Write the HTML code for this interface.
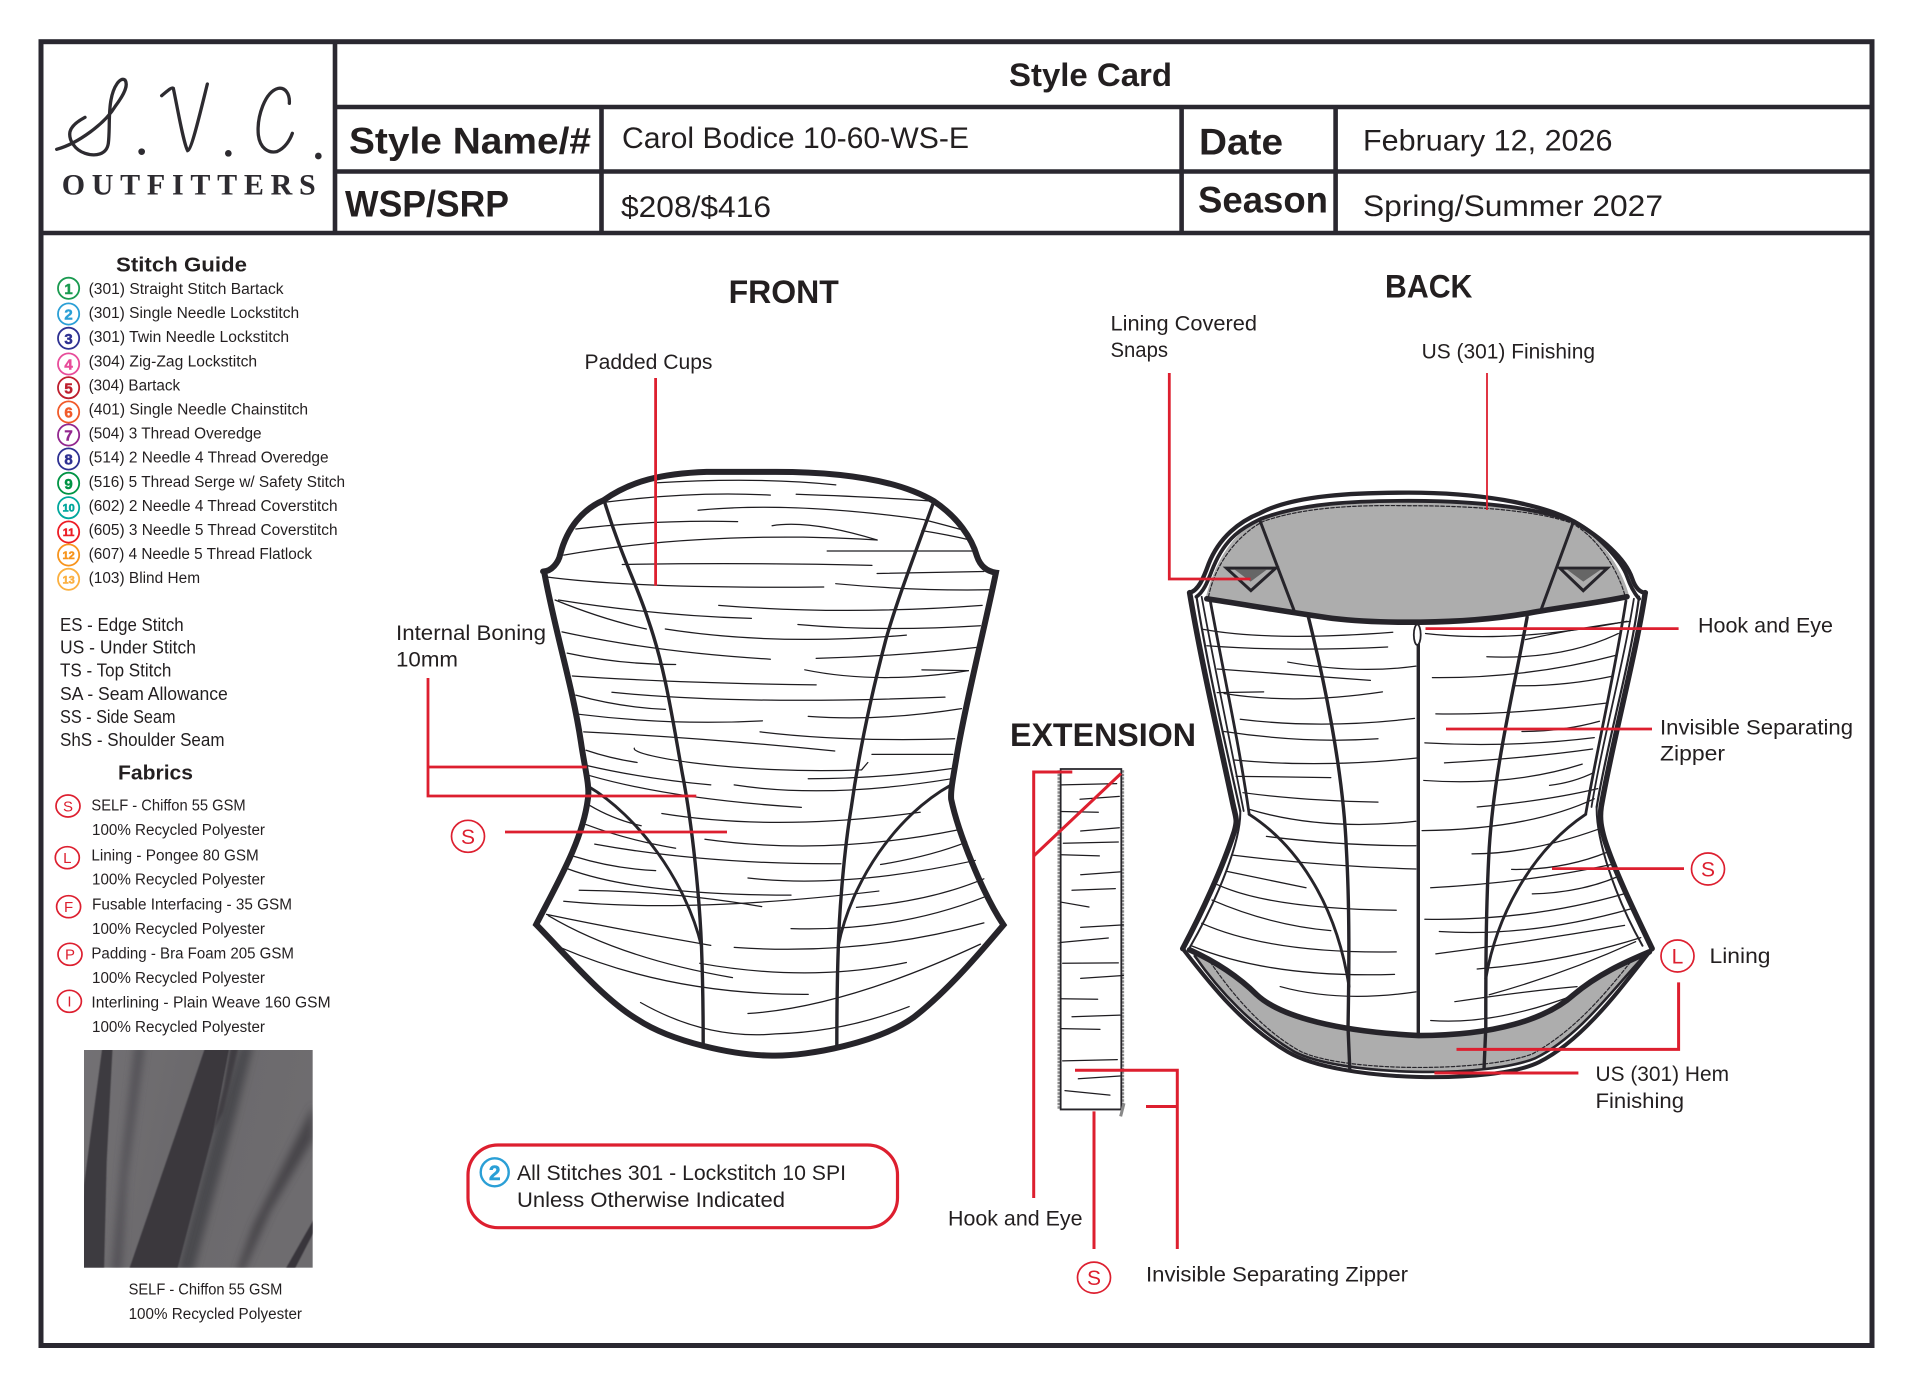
<!DOCTYPE html>
<html><head><meta charset="utf-8"><title>Style Card</title>
<style>
html,body{margin:0;padding:0;background:#fff}
svg{display:block}
text{font-family:"Liberation Sans",Arial,sans-serif;fill:#231f20}
.b{font-weight:bold}
.w path{fill:none;stroke:#1e1c20;stroke-width:1.25;vector-effect:non-scaling-stroke;stroke-linecap:round}
.o path{fill:none;stroke:#26242a;vector-effect:non-scaling-stroke;stroke-linecap:round;stroke-linejoin:miter}
.r{stroke:#dd1f2f;fill:none;stroke-width:2.8}
.rc{stroke:#dd1f2f;fill:#fff;stroke-width:1.7}
.rt{fill:#dd1f2f !important}
.n{fill:#fff;stroke-width:1.8}
.d{font-weight:bold;text-anchor:middle;stroke-width:.5}
</style></head><body>
<svg xmlns="http://www.w3.org/2000/svg" width="1920" height="1398" viewBox="0 0 1920 1398">
<rect width="1920" height="1398" fill="#fff"/>

<!-- frame -->
<g fill="none" stroke="#2a2830">
<rect x="41" y="41.700" width="1831" height="1303.800" stroke-width="5"/>
<path stroke-width="4.600" d="M335 42V233M335 107H1872M335 171.500H1872M41 233H1872M601.500 107V233M1181.600 107V233M1335.600 107V233"/>
</g>

<!-- logo -->
<g transform="translate(45,60) scale(.33333)" class="o">
<path style="stroke:#2d2b30" stroke-width="3.300" d="M35 268C100 250 180 190 210 140C240 100 250 75 240 60C225 50 205 80 198 120C190 160 195 210 190 250C185 285 150 290 120 280C90 270 70 240 75 215C80 195 105 180 120 172"/>
<path style="stroke:#2d2b30" stroke-width="3.300" d="M350 107C365 95 380 80 385 85C395 130 415 250 428 272C440 270 470 140 487 72"/>
<path style="stroke:#2d2b30" stroke-width="3.300" d="M733 130C735 100 720 82 700 85C660 95 635 170 640 225C645 265 670 280 695 275C720 265 735 240 742 220"/>
<g fill="#2d2b30"><circle cx="290" cy="275" r="10"/><circle cx="550" cy="280" r="10"/><circle cx="820" cy="288" r="10"/></g>
</g>
<text x="61.700" y="194.300" font-size="30" font-weight="bold" style="font-family:'Liberation Serif',serif;fill:#2d2b30" textLength="254" lengthAdjust="spacing">OUTFITTERS</text>

<!-- header -->
<text class="b" x="1009" y="86" font-size="32" textLength="163" lengthAdjust="spacingAndGlyphs">Style Card</text>
<text class="b" x="349" y="153.500" font-size="37" textLength="242" lengthAdjust="spacingAndGlyphs">Style Name/#</text>
<text class="b" x="345" y="216.500" font-size="37" textLength="164" lengthAdjust="spacingAndGlyphs">WSP/SRP</text>
<text class="b" x="1199" y="154.500" font-size="37" textLength="84" lengthAdjust="spacingAndGlyphs">Date</text>
<text class="b" x="1198" y="212.500" font-size="37" textLength="130" lengthAdjust="spacingAndGlyphs">Season</text>
<text x="622" y="148" font-size="30" textLength="347" lengthAdjust="spacingAndGlyphs">Carol Bodice 10-60-WS-E</text>
<text x="621" y="217" font-size="30" textLength="150" lengthAdjust="spacingAndGlyphs">$208/$416</text>
<text x="1363" y="150.700" font-size="30" textLength="249.500" lengthAdjust="spacingAndGlyphs">February 12, 2026</text>
<text x="1363" y="216" font-size="30" textLength="300" lengthAdjust="spacingAndGlyphs">Spring/Summer 2027</text>

<!-- stitch guide -->
<text class="b" x="116" y="271.700" font-size="20.500" textLength="131" lengthAdjust="spacingAndGlyphs">Stitch Guide</text>
<g font-size="15.500">
<text x="88.600" y="294" textLength="195" lengthAdjust="spacingAndGlyphs">(301) Straight Stitch Bartack</text>
<text x="88.600" y="318" textLength="210.500" lengthAdjust="spacingAndGlyphs">(301) Single Needle Lockstitch</text>
<text x="88.600" y="342.200" textLength="200.500" lengthAdjust="spacingAndGlyphs">(301) Twin Needle Lockstitch</text>
<text x="88.600" y="366.300" textLength="168.500" lengthAdjust="spacingAndGlyphs">(304) Zig-Zag Lockstitch</text>
<text x="88.600" y="390.400" textLength="91.500" lengthAdjust="spacingAndGlyphs">(304) Bartack</text>
<text x="88.600" y="414.500" textLength="219.500" lengthAdjust="spacingAndGlyphs">(401) Single Needle Chainstitch</text>
<text x="88.600" y="438.600" textLength="173" lengthAdjust="spacingAndGlyphs">(504) 3 Thread Overedge</text>
<text x="88.600" y="462.700" textLength="240" lengthAdjust="spacingAndGlyphs">(514) 2 Needle 4 Thread Overedge</text>
<text x="88.600" y="486.800" textLength="256.500" lengthAdjust="spacingAndGlyphs">(516) 5 Thread Serge w/ Safety Stitch</text>
<text x="88.600" y="510.900" textLength="249" lengthAdjust="spacingAndGlyphs">(602) 2 Needle 4 Thread Coverstitch</text>
<text x="88.600" y="535" textLength="249" lengthAdjust="spacingAndGlyphs">(605) 3 Needle 5 Thread Coverstitch</text>
<text x="88.600" y="559" textLength="223.500" lengthAdjust="spacingAndGlyphs">(607) 4 Needle 5 Thread Flatlock</text>
<text x="88.600" y="583" textLength="111.500" lengthAdjust="spacingAndGlyphs">(103) Blind Hem</text>
</g>
<g>
<circle class="n" cx="68.600" cy="288.300" r="10.600" stroke="#1a9a50"/><text class="d" x="68.600" y="294" font-size="15" style="fill:#1a9a50;stroke:#1a9a50">1</text>
<circle class="n" cx="68.600" cy="314" r="10.600" stroke="#2a9fd6"/><text class="d" x="68.600" y="319.700" font-size="15" style="fill:#2a9fd6;stroke:#2a9fd6">2</text>
<circle class="n" cx="68.600" cy="338.300" r="10.600" stroke="#2e3192"/><text class="d" x="68.600" y="344" font-size="15" style="fill:#2e3192;stroke:#2e3192">3</text>
<circle class="n" cx="68.600" cy="364" r="10.600" stroke="#e84c9a"/><text class="d" x="68.600" y="369.700" font-size="15" style="fill:#e84c9a;stroke:#e84c9a">4</text>
<circle class="n" cx="68.600" cy="387.700" r="10.600" stroke="#be1e2d"/><text class="d" x="68.600" y="393.400" font-size="15" style="fill:#be1e2d;stroke:#be1e2d">5</text>
<circle class="n" cx="68.600" cy="412" r="10.600" stroke="#f15a29"/><text class="d" x="68.600" y="417.700" font-size="15" style="fill:#f15a29;stroke:#f15a29">6</text>
<circle class="n" cx="68.600" cy="435" r="10.600" stroke="#92278f"/><text class="d" x="68.600" y="440.700" font-size="15" style="fill:#92278f;stroke:#92278f">7</text>
<circle class="n" cx="68.600" cy="459" r="10.600" stroke="#2e3192"/><text class="d" x="68.600" y="464.700" font-size="15" style="fill:#2e3192;stroke:#2e3192">8</text>
<circle class="n" cx="68.600" cy="483.300" r="10.600" stroke="#009444"/><text class="d" x="68.600" y="489" font-size="15" style="fill:#009444;stroke:#009444">9</text>
<circle class="n" cx="68.600" cy="507.700" r="10.600" stroke="#00a79d"/><text class="d" x="68.600" y="511.700" font-size="11" style="fill:#00a79d;stroke:#00a79d">10</text>
<circle class="n" cx="68.600" cy="532" r="10.600" stroke="#ed1c24"/><text class="d" x="68.600" y="536" font-size="11" style="fill:#ed1c24;stroke:#ed1c24">11</text>
<circle class="n" cx="68.600" cy="555" r="10.600" stroke="#f7941d"/><text class="d" x="68.600" y="559" font-size="11" style="fill:#f7941d;stroke:#f7941d">12</text>
<circle class="n" cx="68.600" cy="579.300" r="10.600" stroke="#fbb040"/><text class="d" x="68.600" y="583.300" font-size="11" style="fill:#fbb040;stroke:#fbb040">13</text>
</g>

<!-- abbreviations -->
<g font-size="18">
<text x="60" y="631" textLength="123.700" lengthAdjust="spacingAndGlyphs">ES - Edge Stitch</text>
<text x="60" y="653.700" textLength="136" lengthAdjust="spacingAndGlyphs">US - Under Stitch</text>
<text x="60" y="676.700" textLength="111.400" lengthAdjust="spacingAndGlyphs">TS - Top Stitch</text>
<text x="60" y="700" textLength="167.800" lengthAdjust="spacingAndGlyphs">SA - Seam Allowance</text>
<text x="60" y="723" textLength="115.500" lengthAdjust="spacingAndGlyphs">SS - Side Seam</text>
<text x="60" y="746" textLength="164.500" lengthAdjust="spacingAndGlyphs">ShS - Shoulder Seam</text>
</g>

<!-- fabrics -->
<text class="b" x="118" y="779.500" font-size="20.500" textLength="75" lengthAdjust="spacingAndGlyphs">Fabrics</text>
<g font-size="15.500">
<text x="91.400" y="810.700" textLength="154.300" lengthAdjust="spacingAndGlyphs">SELF - Chiffon 55 GSM</text>
<text x="92" y="835" textLength="173" lengthAdjust="spacingAndGlyphs">100% Recycled Polyester</text>
<text x="91.400" y="860.300" textLength="167.400" lengthAdjust="spacingAndGlyphs">Lining - Pongee 80 GSM</text>
<text x="92" y="884.700" textLength="173" lengthAdjust="spacingAndGlyphs">100% Recycled Polyester</text>
<text x="92" y="909.700" textLength="200" lengthAdjust="spacingAndGlyphs">Fusable Interfacing - 35 GSM</text>
<text x="92" y="934" textLength="173" lengthAdjust="spacingAndGlyphs">100% Recycled Polyester</text>
<text x="91.400" y="958.700" textLength="202.600" lengthAdjust="spacingAndGlyphs">Padding - Bra Foam 205 GSM</text>
<text x="92" y="983" textLength="173" lengthAdjust="spacingAndGlyphs">100% Recycled Polyester</text>
<text x="91.400" y="1007.700" textLength="239.200" lengthAdjust="spacingAndGlyphs">Interlining - Plain Weave  160 GSM</text>
<text x="92" y="1032" textLength="173" lengthAdjust="spacingAndGlyphs">100% Recycled Polyester</text>
</g>
<g text-anchor="middle" font-size="15">
<ellipse class="rc" cx="68" cy="806" rx="12" ry="11"/><text class="rt" x="68" y="811.500">S</text>
<ellipse class="rc" cx="67.300" cy="857.700" rx="12" ry="11"/><text class="rt" x="67.300" y="863">L</text>
<ellipse class="rc" cx="68.600" cy="906.700" rx="12" ry="11"/><text class="rt" x="68.600" y="912">F</text>
<ellipse class="rc" cx="70" cy="954.300" rx="12" ry="11"/><text class="rt" x="70" y="959.700">P</text>
<ellipse class="rc" cx="69.400" cy="1001.300" rx="12" ry="11"/><text class="rt" x="69.400" y="1006.700">I</text>
</g>

<!-- swatch -->
<defs>
<linearGradient id="sw" x1="0" y1="0" x2="1" y2="0.2">
<stop offset="0" stop-color="#737174"/><stop offset=".5" stop-color="#6b696c"/><stop offset="1" stop-color="#6e6c6f"/>
</linearGradient>
<filter id="bl" x="-20%" y="-20%" width="140%" height="140%"><feGaussianBlur stdDeviation="4"/></filter>
<filter id="bs" x="-30%" y="-30%" width="160%" height="160%"><feGaussianBlur stdDeviation="12"/></filter>
<filter id="bh" x="-10%" y="-10%" width="120%" height="120%"><feGaussianBlur stdDeviation="1.500"/></filter>
<clipPath id="swc"><rect x="12" y="15" width="686" height="653"/></clipPath>
</defs>
<g transform="translate(80,1045) scale(.33333)">
<rect x="12" y="15" width="686" height="653" fill="url(#sw)"/>
<g clip-path="url(#swc)">
<polygon points="165,0 195,0 140,400 125,680 95,680 125,350" fill="#535156" filter="url(#bs)"/>
<polygon points="340,680 470,200 520,0 480,0 400,260 290,680" fill="#4a484d" filter="url(#bs)"/>
<polygon points="700,180 700,280 570,500 490,680 470,680 520,540 610,360" fill="#47454a" filter="url(#bs)"/>
<polygon points="68,0 98,0 80,350 72,680 0,680 12,420" fill="#3c3a3f" filter="url(#bh)"/>
<polygon points="378,0 450,0 400,260 290,680 145,680 300,230" fill="#3a383e" filter="url(#bh)"/>
<polygon points="452,0 478,0 430,200 400,260 430,130" fill="#3f3d42" filter="url(#bl)"/>
<polygon points="702,522 702,560 640,680 612,680" fill="#38363b" filter="url(#bh)"/>
</g>
</g>
<g font-size="15.500">
<text x="128.600" y="1294.700" textLength="153.800" lengthAdjust="spacingAndGlyphs">SELF - Chiffon 55 GSM</text>
<text x="128.600" y="1319" textLength="173.400" lengthAdjust="spacingAndGlyphs">100% Recycled Polyester</text>
</g>

<!-- titles -->
<text class="b" x="728.600" y="303" font-size="32" textLength="110.200" lengthAdjust="spacingAndGlyphs">FRONT</text>
<text class="b" x="1385" y="297.700" font-size="32" textLength="87.400" lengthAdjust="spacingAndGlyphs">BACK</text>
<text class="b" x="1010" y="746" font-size="32" textLength="186" lengthAdjust="spacingAndGlyphs">EXTENSION</text>

<!-- FRONT bodice -->
<g transform="translate(500,440) scale(.3444,.4082)">
<path fill="#fff" d="M125 322C150 322 170 300 175 280C195 215 240 170 300 148C380 100 470 82 600 78L800 78C1000 78 1160 100 1260 150C1330 190 1370 240 1385 285C1395 310 1415 322 1440 325C1410 450 1350 650 1325 780C1315 830 1308 860 1310 880C1330 960 1400 1110 1462 1188C1400 1250 1300 1350 1200 1415C1100 1475 900 1510 790 1508C680 1508 500 1475 400 1420C300 1370 190 1260 105 1187C170 1080 240 980 255 880C262 850 245 800 235 740C210 600 160 470 128 322Z"/>
<g class="w">
<path d="M450 105Q750 90 975 110"/><path d="M310 152Q560 125 785 135"/><path d="M860 133Q1100 140 1260 150"/>
<path d="M575 172Q850 150 1230 195Q1300 210 1350 222"/><path d="M220 218Q450 195 690 200"/><path d="M790 210Q900 195 1095 245"/>
<path d="M185 282Q500 235 880 238Q1000 240 1095 245"/><path d="M1225 222Q1300 232 1365 245"/><path d="M950 272L1380 272"/>
<path d="M355 305Q700 300 1080 307"/><path d="M1095 327Q1250 325 1405 322"/><path d="M130 335Q400 365 940 360"/>
<path d="M975 352Q1200 370 1420 367"/><path d="M635 405Q1000 430 1400 405"/><path d="M160 392Q300 440 425 463"/>
<path d="M170 392Q450 430 730 437"/><path d="M480 463Q800 505 1180 478"/><path d="M865 452Q1100 470 1395 455"/>
<path d="M180 470Q450 520 785 537"/><path d="M918 535Q1150 530 1385 508"/><path d="M195 522Q350 550 510 550"/>
<path d="M885 563Q1100 600 1360 565"/><path d="M1225 563L1360 565"/><path d="M210 578Q500 595 918 600"/>
<path d="M325 618Q700 650 1292 630"/><path d="M220 625Q350 655 480 660"/><path d="M230 672Q500 700 762 688"/>
<path d="M895 677Q1100 690 1340 658"/><path d="M243 715Q600 730 972 762"/><path d="M755 715Q1000 740 1320 732"/>
<path d="M1080 770L1315 770"/><path d="M390 755C380 775 700 820 1050 808L1068 790"/><path d="M250 760Q320 780 398 790"/>
<path d="M255 798Q420 830 612 845"/><path d="M895 830Q1100 830 1310 805"/><path d="M260 822Q500 880 875 900"/>
<path d="M680 845Q950 880 1310 830"/><path d="M260 895Q330 930 410 945"/><path d="M470 915Q800 960 1220 912"/>
<path d="M250 942Q370 980 510 1000"/><path d="M595 978Q950 1020 1330 955"/><path d="M215 1020Q330 1050 452 1055"/>
<path d="M275 990Q600 1040 990 1038"/><path d="M1105 1040Q1250 1020 1355 985"/><path d="M195 1050Q400 1115 845 1115"/>
<path d="M720 1073Q1000 1100 1380 1030"/><path d="M230 1103Q500 1105 760 1143"/><path d="M185 1130Q550 1160 1100 1105"/>
<path d="M1035 1145Q1250 1130 1405 1075"/><path d="M135 1162Q350 1200 612 1238"/><path d="M845 1197Q1150 1205 1405 1120"/>
<path d="M680 1243Q1050 1265 1405 1183"/><path d="M180 1245Q500 1360 895 1358"/><path d="M140 1165Q350 1270 675 1317"/>
<path d="M580 1282Q900 1330 1180 1280"/><path d="M720 1405Q1000 1390 1395 1235"/><path d="M408 1378Q600 1470 800 1455Q1000 1450 1188 1388"/>
</g>
<g class="o">
<path stroke-width="3.400" d="M303 150C350 280 400 360 430 440C480 560 500 680 530 820C560 950 580 1130 585 1240C590 1350 590 1420 590 1485"/>
<path stroke-width="3.400" d="M1260 150C1200 290 1150 400 1120 490C1070 650 1040 780 1020 900C1000 1000 985 1150 982 1250C978 1350 978 1420 978 1490"/>
<path stroke-width="2.900" d="M255 848C400 920 540 1080 585 1240"/>
<path stroke-width="2.900" d="M1310 845C1150 920 1020 1080 982 1240"/>
<path stroke-width="6" d="M125 322C150 322 170 300 175 280C195 215 240 170 300 148C380 100 470 82 600 78L800 78C1000 78 1160 100 1260 150C1330 190 1370 240 1385 285C1395 310 1415 322 1440 325C1410 450 1350 650 1325 780C1315 830 1308 860 1310 880C1330 960 1400 1110 1462 1188C1400 1250 1300 1350 1200 1415C1100 1475 900 1510 790 1508C680 1508 500 1475 400 1420C300 1370 190 1260 105 1187C170 1080 240 980 255 880C262 850 245 800 235 740C210 600 160 470 128 322"/>
</g>
</g>

<!-- BACK bodice -->
<g transform="translate(1150,460) scale(.3444,.4082)">
<path fill="#adadad" d="M160 345C180 270 230 180 320 145C440 105 600 100 750 100C950 100 1110 115 1230 150C1300 180 1370 260 1392 335C1200 360 950 398 780 398C500 395 300 360 160 345Z"/>
<path fill="#adadad" d="M130 1210C200 1300 300 1390 420 1450C560 1510 980 1515 1120 1465C1250 1410 1350 1290 1435 1210C1300 1250 1240 1290 1230 1310C1150 1370 1000 1410 780 1410C550 1400 380 1365 310 1310C250 1260 180 1225 130 1210Z"/>
<g class="o">
<path stroke-width="1.200" stroke-dasharray="3.500 2" d="M170 335C190 250 260 180 330 150C450 115 600 110 750 112C950 112 1130 125 1225 155C1300 190 1360 270 1380 335"/>
<path stroke-width="1.200" stroke-dasharray="3.500 2" d="M175 1230C240 1310 330 1400 440 1450C570 1500 970 1500 1110 1455C1230 1400 1320 1310 1395 1230"/>
</g>
<g style="vector-effect:non-scaling-stroke">
<polygon points="222,265 365,265 293,320" fill="#adadad" stroke="#26242a" stroke-width="3" style="vector-effect:non-scaling-stroke"/>
<polygon points="245,268 340,268 292,298" fill="#666"/>
<polygon points="1190,265 1328,265 1258,320" fill="#adadad" stroke="#26242a" stroke-width="3" style="vector-effect:non-scaling-stroke"/>
<polygon points="1210,268 1310,268 1258,298" fill="#666"/>
</g>
<g class="w">
<path d="M155 415Q350 445 705 422"/><path d="M165 455Q400 470 690 458"/><path d="M400 495Q600 525 772 505"/>
<path d="M195 512Q400 525 640 540"/><path d="M195 570L330 568"/><path d="M215 572Q420 600 675 568"/>
<path d="M262 635Q500 660 768 633"/><path d="M215 665Q450 695 662 683"/><path d="M245 735Q500 755 775 730"/>
<path d="M250 775L525 778"/><path d="M270 815Q450 835 662 838"/><path d="M285 855Q500 910 772 885"/>
<path d="M338 922Q550 945 772 945"/><path d="M240 968Q500 995 772 1002"/><path d="M225 1008Q350 1030 453 1048"/>
<path d="M195 1040Q350 1100 715 1103"/><path d="M180 1078Q350 1140 525 1153"/><path d="M150 1135Q350 1210 715 1205"/>
<path d="M120 1190Q350 1270 710 1260"/><path d="M378 1290Q550 1330 772 1303"/>
<path d="M800 425Q1050 450 1385 395"/><path d="M1090 440Q1250 410 1395 395"/><path d="M978 482Q1200 490 1360 425"/>
<path d="M820 533Q1100 535 1355 478"/><path d="M1055 553Q1200 555 1340 530"/><path d="M830 622Q1050 625 1330 595"/>
<path d="M1080 665Q1200 665 1305 640"/><path d="M798 693Q1050 705 1290 680"/><path d="M855 742Q1100 730 1285 708"/>
<path d="M795 785Q1050 800 1255 745"/><path d="M1160 797Q1230 790 1290 765"/><path d="M950 850Q1150 835 1300 805"/>
<path d="M790 908Q1100 905 1290 830"/><path d="M935 965Q1100 965 1300 905"/><path d="M1050 1003Q1200 1005 1330 960"/>
<path d="M815 1048Q1100 1035 1345 990"/><path d="M1110 1063Q1250 1060 1360 1020"/><path d="M798 1125Q1100 1130 1380 1062"/>
<path d="M840 1155Q1100 1170 1395 1100"/><path d="M830 1210Q1100 1180 1378 1140"/><path d="M950 1247Q1200 1230 1425 1170"/>
<path d="M885 1327Q1100 1300 1240 1290"/><path d="M985 1310Q1200 1260 1410 1180"/><path d="M815 1373Q1000 1385 1235 1310"/>
</g>
<g class="o">
<path stroke-width="3" d="M320 150L418 368"/><path stroke-width="3" d="M1230 150L1135 368"/>
<path stroke-width="3.400" d="M460 385C500 520 560 750 570 950C580 1100 578 1250 575 1390L580 1490"/>
<path stroke-width="3.400" d="M1095 385C1060 550 1000 750 985 950C975 1100 975 1250 975 1390L970 1490"/>
<path stroke-width="2.900" d="M288 868C420 940 540 1080 578 1290"/>
<path stroke-width="2.900" d="M1265 868C1120 950 1010 1100 975 1270"/>
<path stroke-width="3.400" d="M779 450V1405"/>
<path stroke-width="2.200" d="M135 335C170 520 220 700 262 860"/>
<path stroke-width="1.800" d="M150 335C190 520 235 700 272 860"/>
<path stroke-width="2.800" d="M175 345C215 530 260 700 288 868"/>
<path stroke-width="2.200" d="M1420 335C1395 500 1330 680 1297 850"/>
<path stroke-width="1.800" d="M1405 340C1375 500 1310 700 1282 850"/>
<path stroke-width="2.800" d="M1382 345C1350 520 1300 700 1265 868"/>
<path stroke-width="2" d="M262 860C265 930 200 1070 115 1195"/>
<path stroke-width="2" d="M1297 850C1295 930 1350 1070 1430 1190"/>
<path stroke-width="3.800" d="M135 335C160 320 170 290 185 260C220 190 270 165 320 145C440 105 600 100 750 100C950 100 1110 115 1230 150C1300 180 1370 250 1385 285C1395 310 1410 330 1420 340"/>
<path stroke-width="4.300" d="M115 325C140 320 155 290 170 255C200 190 260 150 320 130C420 85 600 80 750 80C950 80 1130 105 1230 150C1310 190 1380 240 1400 290C1410 315 1425 325 1440 325"/>
<path stroke-width="5.600" d="M165 340C280 355 420 375 530 388C650 400 900 405 1100 375C1200 360 1300 350 1385 335"/>
<path stroke-width="5.500" d="M115 325C150 500 200 680 240 840C250 880 255 880 245 910C210 1000 150 1110 95 1197"/>
<path stroke-width="5.500" d="M1438 325C1410 480 1340 700 1310 850C1305 880 1310 900 1320 930C1350 1010 1420 1130 1458 1197"/>
<path stroke-width="5.600" d="M115 1200C180 1225 250 1260 310 1310C380 1365 550 1400 780 1410C1000 1410 1150 1370 1230 1310C1300 1260 1380 1230 1450 1205"/>
<path stroke-width="4" d="M95 1197C180 1290 270 1385 400 1450C550 1525 1000 1530 1130 1475C1260 1420 1370 1290 1458 1197"/>
<path stroke-width="2.600" d="M130 1215C200 1300 300 1390 420 1450C560 1510 980 1515 1120 1465C1250 1410 1350 1290 1435 1215"/>
</g>
<ellipse cx="776" cy="428" rx="10" ry="25" fill="#fff" stroke="#26242a" stroke-width="1.800" style="vector-effect:non-scaling-stroke"/>
</g>

<!-- EXTENSION -->
<g transform="translate(960,700) scale(.3333,.4082)">
<path d="M297 172V1003" fill="none" stroke="#8c8c8c" stroke-width="3" stroke-dasharray="2.500 1" style="vector-effect:non-scaling-stroke"/>
<path d="M488 172V1003" fill="none" stroke="#8c8c8c" stroke-width="3" stroke-dasharray="2.500 1" style="vector-effect:non-scaling-stroke"/>
<rect x="302" y="169" width="182" height="834" fill="#fff" stroke="#26242a" stroke-width="1.800" style="vector-effect:non-scaling-stroke"/>
<g class="w">
<path d="M305 208L470 205"/><path d="M360 243L478 236"/><path d="M302 273L415 275"/><path d="M362 321L478 313"/>
<path d="M310 351L475 348"/><path d="M305 379L418 382"/><path d="M362 428L480 421"/><path d="M336 466L466 462"/>
<path d="M302 495L387 507"/><path d="M362 557L490 551"/><path d="M300 594L445 583"/><path d="M308 645L475 644"/>
<path d="M362 682L490 675"/><path d="M302 732L413 733"/><path d="M336 776L480 772"/><path d="M305 805L420 807"/>
<path d="M308 884L472 881"/><path d="M355 928L480 921"/><path d="M315 957L450 968"/>
</g>
<path d="M492 988L482 1020" fill="none" stroke="#888" stroke-width="3" style="vector-effect:non-scaling-stroke"/>
</g>

<!-- labels -->
<g font-size="21">
<text x="584.500" y="369" textLength="128" lengthAdjust="spacingAndGlyphs">Padded Cups</text>
<text x="396" y="640" textLength="150" lengthAdjust="spacingAndGlyphs">Internal Boning</text>
<text x="396" y="666.700" textLength="62" lengthAdjust="spacingAndGlyphs">10mm</text>
<text x="1110.500" y="330.700" textLength="146.500" lengthAdjust="spacingAndGlyphs">Lining Covered</text>
<text x="1110.500" y="357" textLength="57.500" lengthAdjust="spacingAndGlyphs">Snaps</text>
<text x="1421.600" y="358.300" textLength="173.400" lengthAdjust="spacingAndGlyphs">US (301) Finishing</text>
<text x="1698" y="632.500" textLength="135" lengthAdjust="spacingAndGlyphs">Hook and Eye</text>
<text x="1660" y="734.700" textLength="193" lengthAdjust="spacingAndGlyphs">Invisible Separating</text>
<text x="1660" y="760.500" textLength="65" lengthAdjust="spacingAndGlyphs">Zipper</text>
<text x="1709.500" y="963.200" textLength="61" lengthAdjust="spacingAndGlyphs">Lining</text>
<text x="1595.500" y="1081" textLength="133.500" lengthAdjust="spacingAndGlyphs">US (301) Hem</text>
<text x="1595.500" y="1108" textLength="88.500" lengthAdjust="spacingAndGlyphs">Finishing</text>
<text x="948" y="1225.500" textLength="134.500" lengthAdjust="spacingAndGlyphs">Hook and Eye</text>
<text x="1146" y="1281.500" textLength="262" lengthAdjust="spacingAndGlyphs">Invisible Separating Zipper</text>
<text x="517" y="1180" textLength="329" lengthAdjust="spacingAndGlyphs">All Stitches 301 - Lockstitch 10 SPI</text>
<text x="517" y="1207" textLength="268" lengthAdjust="spacingAndGlyphs">Unless Otherwise Indicated</text>
</g>

<!-- note box -->
<rect x="468" y="1145" width="429.500" height="82.700" rx="30" ry="30" fill="none" stroke="#dd1f2f" stroke-width="3.200"/>
<circle cx="494.700" cy="1172.300" r="14" fill="none" stroke="#2a9fd6" stroke-width="2.400"/>
<text class="d" x="494.700" y="1180" font-size="21" style="fill:#2a9fd6;stroke:#2a9fd6">2</text>

<!-- red leaders -->
<g class="r">
<path d="M655.600 378V585.700"/>
<path d="M428 678V796H696.300M428 767H586.800"/>
<path d="M505 832H727"/>
<path d="M1169.300 373V579H1250.500"/>
<path d="M1487 373V510" stroke-width="1.800"/>
<path d="M1425.500 628.600H1678.600"/>
<path d="M1446 729H1652"/>
<path d="M1552 868.600H1684"/>
<path d="M1678.600 982.400V1049.400H1456.500" stroke-width="3"/>
<path d="M1434.400 1073H1578.400" stroke-width="3"/>
<path d="M1072.300 772H1033.700V1198" stroke-width="3"/>
<path d="M1033.700 856L1121 773.500" stroke-width="3"/>
<path d="M1094 1111.400V1249" stroke-width="3"/>
<path d="M1075 1070.200H1177.300V1249M1146 1106.500H1177.300" stroke-width="3"/>
</g>
<g text-anchor="middle" font-size="21">
<ellipse class="rc" cx="468" cy="836.300" rx="16.500" ry="16"/><text class="rt" x="468" y="844">S</text>
<ellipse class="rc" cx="1094" cy="1277.600" rx="16.500" ry="15.500"/><text class="rt" x="1094" y="1285">S</text>
<ellipse class="rc" cx="1708" cy="869" rx="16.500" ry="16"/><text class="rt" x="1708" y="876.500">S</text>
<ellipse class="rc" cx="1677.500" cy="956" rx="16.500" ry="16"/><text class="rt" x="1677.500" y="963.500">L</text>
</g>
</svg>
</body></html>
